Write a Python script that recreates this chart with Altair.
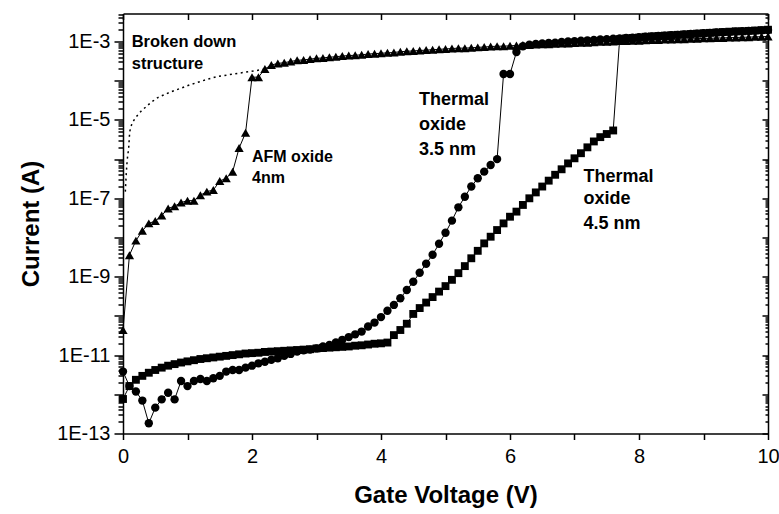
import altair as alt
import pandas as pd

FONT = "Liberation Sans"

# Gate-voltage sweep (0 to 10 V in 0.1 V steps)
VOLTS = [round(i * 0.1, 1) for i in range(101)]

# log10(current / A)
LOG_AFM_4NM = [
    -10.36, -8.45, -8.08, -7.83, -7.64, -7.58, -7.44, -7.26, -7.20, -7.11,
    -7.06, -7.06, -6.92, -6.83, -6.79, -6.56, -6.49, -6.32, -5.72, -5.33,
    -3.91, -3.91, -3.70, -3.60, -3.56, -3.54, -3.51, -3.48, -3.47, -3.45,
    -3.43, -3.42, -3.40, -3.39, -3.37, -3.36, -3.35, -3.34, -3.32, -3.31,
    -3.30, -3.29, -3.28, -3.26, -3.25, -3.24, -3.23, -3.22, -3.21, -3.20,
    -3.19, -3.18, -3.17, -3.17, -3.16, -3.15, -3.14, -3.13, -3.12, -3.12,
    -3.11, -3.10, -3.09, -3.09, -3.08, -3.07, -3.07, -3.06, -3.05, -3.05,
    -3.04, -3.03, -3.03, -3.02, -3.01, -3.01, -3.00, -2.99, -2.99, -2.98,
    -2.98, -2.97, -2.96, -2.96, -2.95, -2.95, -2.94, -2.94, -2.93, -2.93,
    -2.92, -2.92, -2.91, -2.91, -2.90, -2.90, -2.89, -2.89, -2.88, -2.88,
    -2.87,
]
LOG_THERMAL_35 = [
    -11.42, -11.79, -11.93, -12.16, -12.74, -12.34, -12.13, -11.96, -12.13, -11.66,
    -11.79, -11.66, -11.61, -11.66, -11.59, -11.53, -11.42, -11.38, -11.38, -11.32,
    -11.27, -11.21, -11.17, -11.12, -11.08, -11.02, -10.97, -10.91, -10.88, -10.86,
    -10.83, -10.78, -10.74, -10.68, -10.61, -10.54, -10.47, -10.40, -10.27, -10.17,
    -10.03, -9.87, -9.72, -9.55, -9.34, -9.13, -8.90, -8.67, -8.44, -8.16,
    -7.88, -7.57, -7.23, -6.96, -6.70, -6.49, -6.32, -6.15, -6.00, -3.83,
    -3.83, -3.27, -3.12, -3.08, -3.06, -3.05, -3.04, -3.03, -3.01, -3.00,
    -2.99, -2.98, -2.97, -2.96, -2.95, -2.94, -2.93, -2.92, -2.91, -2.90,
    -2.89, -2.88, -2.87, -2.86, -2.85, -2.84, -2.83, -2.82, -2.81, -2.80,
    -2.79, -2.78, -2.77, -2.76, -2.76, -2.75, -2.74, -2.73, -2.73, -2.72,
    -2.71,
]
LOG_THERMAL_45 = [
    -12.12, -11.79, -11.63, -11.53, -11.45, -11.38, -11.32, -11.27, -11.23, -11.19,
    -11.16, -11.13, -11.10, -11.08, -11.06, -11.04, -11.02, -11.00, -10.98, -10.96,
    -10.95, -10.94, -10.92, -10.91, -10.90, -10.89, -10.88, -10.87, -10.86, -10.85,
    -10.83, -10.82, -10.81, -10.80, -10.79, -10.78, -10.76, -10.75, -10.73, -10.71,
    -10.70, -10.68, -10.49, -10.36, -10.20, -9.95, -9.80, -9.66, -9.52, -9.38,
    -9.24, -9.08, -8.91, -8.73, -8.53, -8.34, -8.15, -7.98, -7.81, -7.64,
    -7.47, -7.34, -7.17, -7.00, -6.85, -6.70, -6.55, -6.40, -6.26, -6.11,
    -5.98, -5.85, -5.70, -5.55, -5.44, -5.36, -5.27, -2.94, -2.92, -2.91,
    -2.90, -2.88, -2.87, -2.86, -2.85, -2.84, -2.83, -2.82, -2.81, -2.80,
    -2.79, -2.78, -2.77, -2.76, -2.75, -2.74, -2.74, -2.73, -2.72, -2.71,
    -2.70,
]

# Broken down structure (dotted curve)
BD_VOLTS = [0.036, 0.051, 0.065, 0.088, 0.104, 0.14, 0.206, 0.273, 0.36, 0.438,
            0.54, 0.65, 0.75, 0.90, 1.03, 1.16, 1.32, 1.45, 1.71, 2.07, 2.2]
BD_LOG = [-6.83, -6.36, -6.02, -5.72, -5.30, -5.08, -4.92, -4.79, -4.66, -4.55,
          -4.43, -4.35, -4.28, -4.19, -4.11, -4.04, -3.96, -3.90, -3.83, -3.74, -3.70]

# Annotations
LABEL_TEXT = ["Broken down", "structure", "AFM oxide", "4nm",
              "Thermal", "oxide", "3.5 nm", "Thermal", "oxide", "4.5 nm"]
LABEL_V = [0.135, 0.135, 2.0, 2.0, 4.59, 4.59, 4.59, 7.14, 7.14, 7.14]
LABEL_LOG = [-3.13, -3.71, -6.07, -6.61, -4.62, -5.26, -5.89, -6.58, -7.15, -7.79]
LABEL_FS = [16.5, 16.5, 16, 16, 18, 18, 18, 18, 18, 18]

W, H = 645, 420
Y_TOP = 10 ** -2.286

def frame(logs, volts):
    return pd.DataFrame({"V": volts, "I": [10 ** v for v in logs]})

df_afm = frame(LOG_AFM_4NM, VOLTS)
df_35 = frame(LOG_THERMAL_35, VOLTS)
df_45 = frame(LOG_THERMAL_45, VOLTS)
df_bd = frame(BD_LOG, BD_VOLTS)
df_lab = pd.DataFrame({"text": LABEL_TEXT, "V": LABEL_V,
                       "I": [10 ** v for v in LABEL_LOG], "fs": LABEL_FS})

xs = alt.Scale(domain=[0, 10], nice=False, zero=False)
ys = alt.Scale(type="log", domain=[1e-13, Y_TOP], nice=False)

decades = [10.0 ** e for e in range(-13, -2)]
minors = [k * 10.0 ** e for e in range(-13, -2) for k in range(2, 10) if k * 10.0 ** e <= Y_TOP]

common = dict(grid=False, tickColor="black", domainColor="black", tickWidth=1.5, domainWidth=1.5)

ax_bottom = alt.Axis(orient="bottom", values=list(range(11)), format="d",
                     labelExpr="datum.value % 2 == 0 ? datum.label : ''",
                     tickSize=6, labelFontSize=20, labelFont=FONT, labelColor="black",
                     labelPadding=7, labelFlush=False, labelOverlap=False,
                     title="Gate Voltage (V)", titleFontSize=24, titleFont=FONT,
                     titleFontWeight="bold", titleColor="black", titlePadding=17, **common)
ax_top = alt.Axis(orient="bottom", offset=-H, values=list(range(11)), labels=False,
                  tickSize=6, title=None, **common)
ax_left = alt.Axis(orient="left", values=decades,
                   labelExpr="(round(log(datum.value)/LN10) % 2 != 0) ? '1E' + round(log(datum.value)/LN10) : ''",
                   tickSize=9, labelFontSize=20, labelFont=FONT, labelColor="black",
                   labelPadding=4, labelOverlap=False, labelFlush=False,
                   title="Current (A)", titleFontSize=24, titleFont=FONT,
                   titleFontWeight="bold", titleColor="black", titlePadding=13, **common)
ax_left_minor = alt.Axis(orient="left", values=minors, labels=False, tickSize=5,
                         domain=False, title=None, **common)
ax_right = alt.Axis(orient="left", offset=-W, values=decades, labels=False, tickSize=6,
                    title=None, **common)
ax_right_minor = alt.Axis(orient="left", offset=-W, values=minors, labels=False, tickSize=3,
                          domain=False, title=None, **common)

def enc(xaxis=None, yaxis=None):
    return dict(
        x=alt.X("V:Q", scale=xs, axis=xaxis),
        y=alt.Y("I:Q", scale=ys, axis=yaxis),
    )

line_style = dict(color="black", strokeWidth=1)

l45 = alt.Chart(df_45).mark_line(**line_style).encode(**enc(ax_bottom, ax_left))
p45 = alt.Chart(df_45).mark_point(shape="square", filled=True, size=62, color="black", opacity=1).encode(**enc(ax_top, ax_left_minor))
l35 = alt.Chart(df_35).mark_line(**line_style).encode(**enc(None, ax_right))
p35 = alt.Chart(df_35).mark_point(shape="circle", filled=True, size=70, color="black", opacity=1).encode(**enc(None, ax_right_minor))
lafm = alt.Chart(df_afm).mark_line(**line_style).encode(**enc())
pafm = alt.Chart(df_afm).mark_point(shape="triangle-up", filled=True, size=85, color="black", opacity=1).encode(**enc())
lbd = alt.Chart(df_bd).mark_line(color="black", strokeWidth=1.5, strokeDash=[2, 3.5]).encode(**enc())
txt = alt.Chart(df_lab).mark_text(align="left", baseline="alphabetic", font=FONT,
                                  fontWeight="bold", color="black").encode(
    x=alt.X("V:Q", scale=xs, axis=None),
    y=alt.Y("I:Q", scale=ys, axis=None),
    text="text:N",
    size=alt.Size("fs:Q", scale=None, legend=None),
)

chart = alt.layer(l45, p45, l35, p35, lafm, pafm, lbd, txt).resolve_axis(
    x="independent", y="independent"
).properties(
    width=W, height=H,
    padding={"left": 123, "top": 13.5, "right": 11, "bottom": 80},
    autosize="none",
    background="white",
).configure_view(stroke=None)

chart.save("out.html", embed_options={"renderer": "svg", "actions": False})
